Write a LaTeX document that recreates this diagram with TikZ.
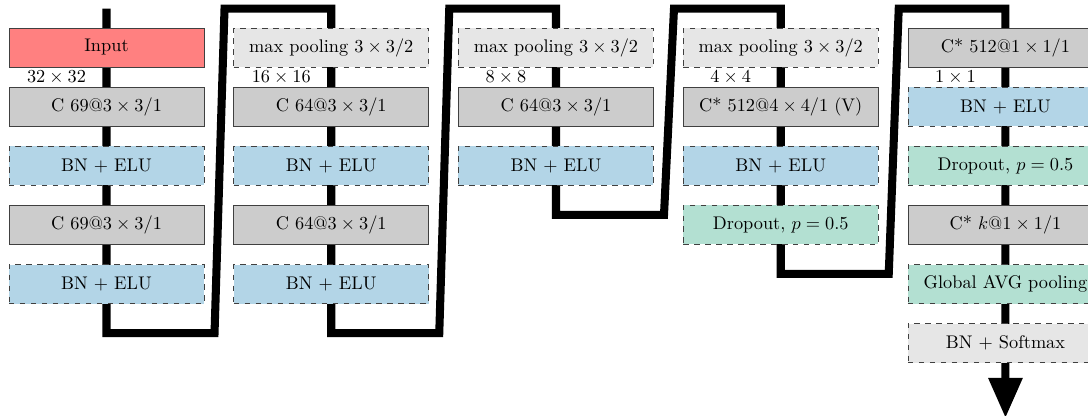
\documentclass[tikz,border=0pt]{standalone}
\usetikzlibrary{arrows.meta,positioning,backgrounds}
\definecolor{NETred}{HTML}{FF8080}
\definecolor{NETconv}{HTML}{CCCCCC}
\definecolor{NETpool}{HTML}{E6E6E6}
\definecolor{NETbn}{HTML}{B3D5E7}
\definecolor{NETdrop}{HTML}{B3E0D2}
\definecolor{NETedge}{HTML}{404040}
\tikzset{netbox/.style={draw=NETedge,thin,minimum width=3.746cm,minimum height=0.749cm,inner sep=2pt},
 inbox/.style={netbox,fill=NETred},
 convbox/.style={netbox,fill=NETconv},
 poolbox/.style={netbox,dashed,fill=NETpool},
 bnbox/.style={netbox,dashed,fill=NETbn},
 dropbox/.style={netbox,dashed,fill=NETdrop},
 dimlbl/.style={inner sep=0pt},
 spine/.style={line width=4.4pt}}

\begin{document}
\begin{tikzpicture}[node distance=0.373cm and 0.557cm]
\useasboundingbox (0,0) rectangle (20.90,-7.972);
% column 1
\node[inbox] (in) at (2.046,-0.912) {Input};
\node[convbox,below=of in] (c1a) {C 69@$3\times3/1$};
\node[bnbox,below=of c1a] (bn1a) {BN $+$ ELU};
\node[convbox,below=of bn1a] (c1b) {C 69@$3\times3/1$};
\node[bnbox,below=of c1b] (bn1b) {BN $+$ ELU};
% column 2
\node[poolbox,right=of in] (mp2) {max pooling $3\times3/2$};
\node[convbox,below=of mp2] (c2a) {C 64@$3\times3/1$};
\node[bnbox,below=of c2a] (bn2a) {BN $+$ ELU};
\node[convbox,below=of bn2a] (c2b) {C 64@$3\times3/1$};
\node[bnbox,below=of c2b] (bn2b) {BN $+$ ELU};
% column 3
\node[poolbox,right=of mp2] (mp3) {max pooling $3\times3/2$};
\node[convbox,below=of mp3] (c3) {C 64@$3\times3/1$};
\node[bnbox,below=of c3] (bn3) {BN $+$ ELU};
% column 4
\node[poolbox,right=of mp3] (mp4) {max pooling $3\times3/2$};
\node[convbox,below=of mp4] (c4) {C* 512@$4\times4/1$ (V)};
\node[bnbox,below=of c4] (bn4) {BN $+$ ELU};
\node[dropbox,below=of bn4] (dr4) {Dropout, $p=0.5$};
% column 5
\node[convbox,right=of mp4] (c5a) {C* 512@$1\times1/1$};
\node[bnbox,below=of c5a] (bn5) {BN $+$ ELU};
\node[dropbox,below=of bn5] (dr5) {Dropout, $p=0.5$};
\node[convbox,below=of dr5] (c5b) {C* $k$@$1\times1/1$};
\node[dropbox,below=of c5b] (gap) {Global AVG pooling};
\node[poolbox,below=of gap] (out) {BN $+$ Softmax};

% feature map sizes
\node[dimlbl] (d1) at ([xshift=-0.96cm,yshift=-1.87mm]in.south) {$32\times32$};
\node[dimlbl] (d2) at ([xshift=-0.96cm,yshift=-1.87mm]mp2.south) {$16\times16$};
\node[dimlbl] (d3) at ([xshift=-0.96cm,yshift=-1.87mm]mp3.south) {$8\times8$};
\node[dimlbl] (d4) at ([xshift=-0.96cm,yshift=-1.87mm]mp4.south) {$4\times4$};
\node[dimlbl] (d5) at ([xshift=-0.96cm,yshift=-1.87mm]c5a.south) {$1\times1$};

% data flow behind the layers
\begin{pgfonlayer}{background}
\draw[spine,-{Triangle[length=7.7mm,width=6.2mm]}]
 ([yshift=3.65mm]in.north) -- ([yshift=-5.6mm]bn1b.south) -- ++(2.075,0)
 -- ([xshift=2.267cm,yshift=3.65mm]in.north) -- ([yshift=3.65mm]mp2.north)
 -- ([yshift=-5.6mm]bn2b.south) -- ++(2.075,0)
 -- ([xshift=2.267cm,yshift=3.65mm]mp2.north) -- ([yshift=3.65mm]mp3.north)
 -- ([yshift=-5.6mm]bn3.south) -- ++(2.075,0)
 -- ([xshift=2.267cm,yshift=3.65mm]mp3.north) -- ([yshift=3.65mm]mp4.north)
 -- ([yshift=-5.6mm]dr4.south) -- ++(2.075,0)
 -- ([xshift=2.267cm,yshift=3.65mm]mp4.north) -- ([yshift=3.65mm]c5a.north)
 -- ([yshift=-10.57mm]out.south);
\end{pgfonlayer}
\end{tikzpicture}
\end{document}
